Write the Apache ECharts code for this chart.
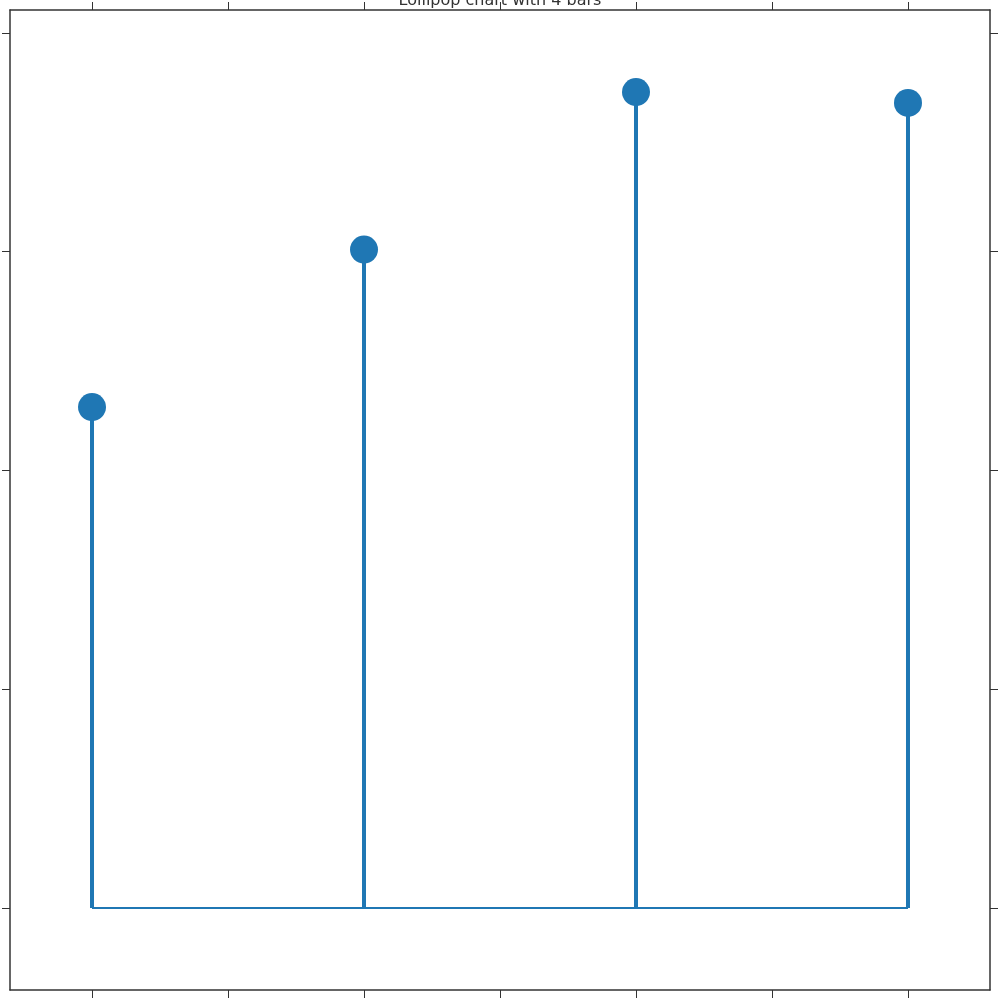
<!DOCTYPE html>
<html>
<head>
<meta charset="utf-8">
<script src="https://cdn.jsdelivr.net/npm/echarts@6/dist/echarts.min.js"></script>
<style>html,body{margin:0;padding:0;background:#fff}#main{width:1000px;height:1000px}</style>
</head>
<body>
<div id="main"></div>
<script>
// data
var xs = [0, 1, 2, 3];
var values = [2.29, 3.01, 3.73, 3.68];
var xTicks = [0, 0.5, 1, 1.5, 2, 2.5, 3];
var yTicks = [0, 1, 2, 3, 4];

var color = '#1f77b4';
var points = xs.map(function (x, i) { return [x, values[i]]; });

var axisLine = { show: true, onZero: false, lineStyle: { color: '#333', width: 1.5 } };
function xAxis(pos) {
    return {
        type: 'value', position: pos, min: -0.3015, max: 3.3015,
        axisLine: axisLine, splitLine: { show: false }, axisLabel: { show: false },
        axisTick: { show: true, length: 8, customValues: xTicks, lineStyle: { color: '#333' } }
    };
}
function yAxis(pos) {
    return {
        type: 'value', position: pos, min: -0.375, max: 4.105,
        axisLine: axisLine, splitLine: { show: false }, axisLabel: { show: false },
        axisTick: { show: true, length: 8, customValues: yTicks, lineStyle: { color: '#333' } }
    };
}

var myChart = echarts.init(document.getElementById('main'));
var option = {
    animation: false,
    title: {
        text: 'Lollipop chart with 4 bars', left: 'center', top: -12,
        textStyle: { fontFamily: 'DejaVu Sans', fontSize: 16, fontWeight: 'normal', color: '#333' }
    },
    grid: { left: 10, right: 10, top: 10, bottom: 10 },
    xAxis: [xAxis('bottom'), xAxis('top')],
    yAxis: [yAxis('left'), yAxis('right')],
    series: [
        {
            type: 'line', data: [[xs[0], 0], [xs[xs.length - 1], 0]],
            symbol: 'none', lineStyle: { color: color, width: 2 }
        },
        {
            type: 'custom', data: points,
            renderItem: function (params, api) {
                var p0 = api.coord([api.value(0), 0]);
                var p1 = api.coord([api.value(0), api.value(1)]);
                return {
                    type: 'line',
                    shape: { x1: p0[0], y1: p0[1], x2: p1[0], y2: p1[1] },
                    style: { stroke: color, lineWidth: 4 }
                };
            }
        },
        {
            type: 'scatter', data: points, symbolSize: 28,
            itemStyle: { color: color, opacity: 1 }
        }
    ]
};
myChart.setOption(option);
</script>
</body>
</html>
